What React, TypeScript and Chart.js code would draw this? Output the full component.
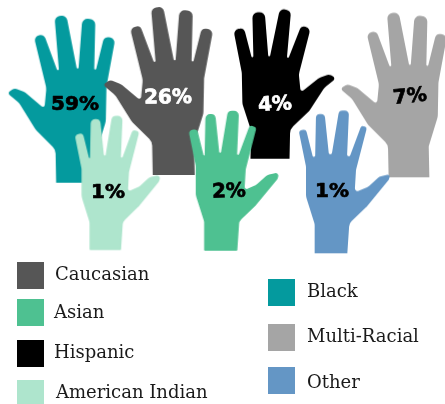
import React, { useEffect, useRef } from "react";
import { Chart, registerables } from "chart.js";

Chart.register(...registerables);

// ---- data (draw order: later hands overlap earlier ones) ----
const categories = ["Black", "Caucasian", "Hispanic", "Multi-Racial", "American Indian", "Asian", "Other"];
const shares = [59, 26, 4, 7, 1, 2, 1];
const handX = [76.7, 173.7, 270, 409, 105.3, 220.7, 331];
const handY = [182.7, 175, 158.7, 177.3, 249.3, 250, 253.3];
const labelX = [75, 168, 275, 410, 108, 229, 332];
const labelY = [105, 98, 105, 97, 193, 192, 192];
const labelTilt = [0, -1, -4, -6, 0, -2, 0];
const colors = ["#049a9e", "#565656", "#000000", "#a5a5a5", "#aee5cd", "#4ec191", "#6496c5"];
const labelColors = ["#000", "#fff", "#fff", "#000", "#000", "#000", "#000"];

const legendOrder = ["Caucasian", "Asian", "Hispanic", "American Indian", "Black", "Multi-Racial", "Other"];
const legendBoxX = [17, 17, 17, 17, 268, 268, 268];
const legendBoxY = [262, 299, 340, 380, 279, 324, 367];
const legendTextX = [55, 54, 54, 56, 307, 307, 307];
const legendTextY = [280, 318, 358, 398, 297, 342, 388];

// ---- glyph outlines: [x, y, corner radius] in template units (3 = 1px) ----
type V = [number, number, number];
const wideOrigin = [521, 525];
const wide: V[] = [
  [458, 525, 0], [456, 425, 30], [395, 365, 40], [345, 285, 40], [308, 254, 7], [330, 240, 14], [362, 252, 30],
  [422, 302, 6], [428, 240, 40], [390, 85, 15], [420, 76, 15], [468, 204, 3],
  [453, 25, 16], [489, 19, 16], [525, 200, 3], [538, 30, 17], [578, 32, 17], [574, 208, 3],
  [605, 84, 15], [639, 90, 15], [612, 235, 40], [610, 340, 40], [582, 430, 15], [584, 525, 0],
];
const slimOrigin = [333, 760];
const slim: V[] = [
  [284, 760, 0], [284, 672, 25], [258, 590, 40], [258, 500, 30], [236, 392, 9], [258, 388, 9], [285, 497, 4],
  [288, 342, 12], [314, 342, 12], [330, 495, 5], [357, 332, 12], [387, 332, 12], [380, 495, 5],
  [424, 377, 7], [441, 382, 7], [408, 510, 30], [404, 578, 8], [445, 560, 25], [478, 530, 20], [512, 522, 6],
  [506, 540, 8], [440, 620, 30], [388, 670, 25], [382, 760, 0],
];

const glyphs = [
  { o: wide, c: wideOrigin, sx: 0.98, sy: 0.995, flip: false, grow: 0 },
  { o: wide, c: wideOrigin, sx: 1, sy: 1, flip: false, grow: 0 },
  { o: wide, c: wideOrigin, sx: 0.93, sy: 0.89, flip: true, grow: 0 },
  { o: wide, c: wideOrigin, sx: 0.97, sy: 0.98, flip: false, grow: 0 },
  { o: slim, c: slimOrigin, sx: 0.92, sy: 0.93, flip: false, grow: 1.5 },
  { o: slim, c: slimOrigin, sx: 0.97, sy: 0.97, flip: false, grow: 1.5 },
  { o: slim, c: slimOrigin, sx: 1, sy: 1, flip: false, grow: 0 },
];

function makeHand(i: number): HTMLCanvasElement {
  const g = glyphs[i];
  const cv = document.createElement("canvas");
  cv.width = 440;
  cv.height = 440;
  const ctx = cv.getContext("2d")!;
  const pts = g.o.map(([x, y, r]) => [
    (((x - g.c[0]) * g.sx) / 3) * (g.flip ? -1 : 1) + 220,
    ((y - g.c[1]) * g.sy) / 3 + 220,
    r / 3,
  ]);
  ctx.fillStyle = colors[i];
  ctx.strokeStyle = colors[i];
  ctx.beginPath();
  ctx.moveTo(pts[0][0], pts[0][1]);
  for (let k = 1; k < pts.length - 1; k++) {
    ctx.arcTo(pts[k][0], pts[k][1], pts[k + 1][0], pts[k + 1][1], pts[k][2]);
  }
  ctx.lineTo(pts[pts.length - 1][0], pts[pts.length - 1][1]);
  ctx.closePath();
  ctx.fill();
  if (g.grow > 0) {
    ctx.lineWidth = g.grow;
    ctx.lineJoin = "round";
    ctx.stroke();
  }
  return cv;
}

const overlay = {
  id: "handLabelsAndKey",
  afterDatasetsDraw(chart: any) {
    const { ctx, scales } = chart;
    ctx.save();
    ctx.textAlign = "center";
    ctx.textBaseline = "middle";
    ctx.font = 'bold 20px "DejaVu Sans"';
    ctx.lineWidth = 0.7;
    ctx.lineJoin = "round";
    shares.forEach((v, i) => {
      ctx.save();
      ctx.translate(scales.x.getPixelForValue(labelX[i]), scales.y.getPixelForValue(labelY[i]));
      ctx.rotate((labelTilt[i] * Math.PI) / 180);
      ctx.fillStyle = labelColors[i];
      ctx.strokeStyle = labelColors[i];
      ctx.fillText(`${v}%`, 0, 0);
      ctx.strokeText(`${v}%`, 0, 0);
      ctx.restore();
    });
    ctx.textAlign = "left";
    ctx.textBaseline = "alphabetic";
    ctx.font = '18px "DejaVu Serif"';
    legendOrder.forEach((name, i) => {
      ctx.fillStyle = colors[categories.indexOf(name)];
      ctx.fillRect(legendBoxX[i], legendBoxY[i], 27, 27);
      ctx.fillStyle = "#1a1a1a";
      ctx.fillText(name, legendTextX[i], legendTextY[i]);
    });
    ctx.restore();
  },
};

export default function App() {
  const ref = useRef<HTMLCanvasElement>(null);
  useEffect(() => {
    document.body.style.margin = "0";
    const icons = categories.map((_, i) => makeHand(i));
    const chart = new Chart(ref.current!, {
      type: "scatter",
      data: {
        labels: categories,
        datasets: [
          {
            data: handX.map((x, i) => ({ x, y: handY[i] })),
            pointStyle: (c: any) => icons[c.dataIndex],
            pointRadius: 10,
            clip: false,
          } as any,
        ],
      },
      options: {
        animation: false,
        responsive: false,
        devicePixelRatio: 1,
        layout: { padding: 0, autoPadding: false },
        plugins: { legend: { display: false }, tooltip: { enabled: false } },
        scales: {
          x: { type: "linear", min: 0, max: 445, display: false },
          y: { type: "linear", min: 0, max: 404, reverse: true, display: false },
        },
      },
      plugins: [overlay],
    });
    return () => chart.destroy();
  }, []);
  return (
    <div style={{ position: "absolute", left: 0, top: 0, width: 445, height: 404 }}>
      <canvas ref={ref} width={445} height={404} style={{ display: "block" }} />
    </div>
  );
}
